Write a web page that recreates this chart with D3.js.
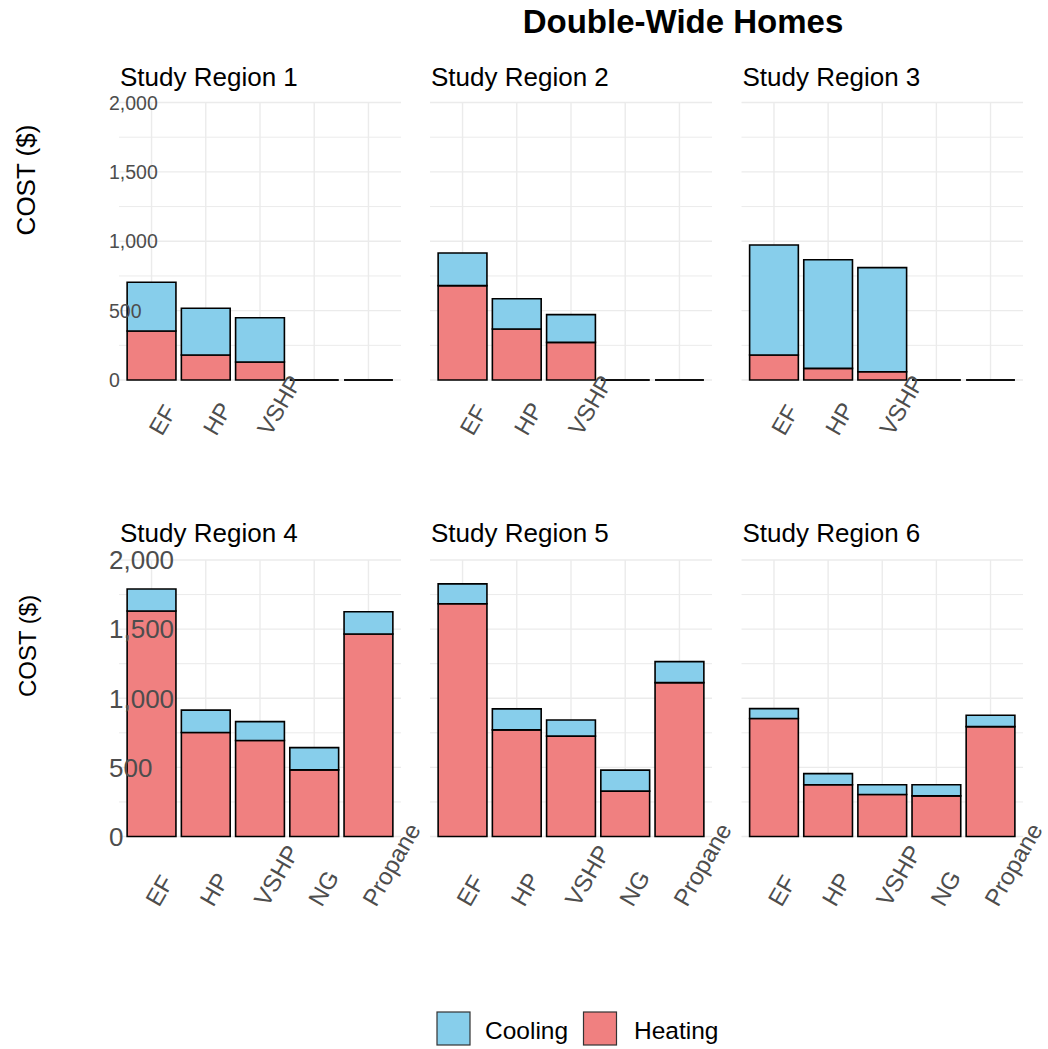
<!DOCTYPE html>
<html>
<head>
<meta charset="utf-8">
<script src="https://cdn.jsdelivr.net/npm/d3@7"></script>
<style>
  html, body { margin: 0; padding: 0; background: #ffffff; }
  svg { display: block; font-family: "Liberation Sans", Arial, sans-serif; }
</style>
</head>
<body>
<svg id="chart" width="1048" height="1049"></svg>
<script>
// ---------- data ----------
const chartTitle = "Double-Wide Homes";
const yAxisTitle = "COST ($)";
const categories = ["EF", "HP", "VSHP", "NG", "Propane"];
const regionNames = ["Study Region 1", "Study Region 2", "Study Region 3",
                     "Study Region 4", "Study Region 5", "Study Region 6"];
const seriesNames = ["Cooling", "Heating"];
const yTicks = [0, 500, 1000, 1500, 2000];
const yMinorTicks = [250, 750, 1250, 1750];
const topRowTickLabels = ["EF", "HP", "VSHP"];
const bottomRowTickLabels = ["EF", "HP", "VSHP", "NG", "Propane"];

const heating1 = [353, 180, 130, 0, 0];
const cooling1 = [351, 337, 319, 0, 0];
const heating2 = [680, 368, 271, 0, 0];
const cooling2 = [235, 218, 200, 0, 0];
const heating3 = [180, 84, 60, 0, 0];
const cooling3 = [793, 783, 750, 0, 0];
const heating4 = [1631, 752, 694, 482, 1465];
const cooling4 = [159, 162, 137, 161, 161];
const heating5 = [1684, 771, 726, 328, 1113];
const cooling5 = [143, 152, 117, 152, 152];
const heating6 = [853, 374, 304, 294, 795];
const cooling6 = [72, 81, 70, 80, 82];

const heatingAll = [heating1, heating2, heating3, heating4, heating5, heating6];
const coolingAll = [cooling1, cooling2, cooling3, cooling4, cooling5, cooling6];

// ---------- layout ----------
const colors = { Cooling: "#87CEEB", Heating: "#F08080" };
const panelX = [[119, 401], [430, 712], [741.5, 1023]];
const rows = [
  { top: 102.5, bottom: 380, stripY: 86, tickFont: 19.5, xLabDy: 57, xLabDx: 10.5, xFont: 23.5,
    labels: topRowTickLabels, titleY: 180, titleX: 35, titleFont: 26 },
  { top: 560, bottom: 836.5, stripY: 542, tickFont: 26, xLabDy: 71.5, xLabDx: 7.5, xFont: 24,
    labels: bottomRowTickLabels, titleY: 646, titleX: 36, titleFont: 24 }
];

const svg = d3.select("#chart");
const fmt = d3.format(",");

svg.append("text")
  .attr("x", 683).attr("y", 33)
  .attr("text-anchor", "middle")
  .attr("font-weight", "bold")
  .attr("font-size", 33)
  .attr("fill", "#000")
  .text(chartTitle);

regionNames.forEach((name, idx) => {
  const r = Math.floor(idx / 3), c = idx % 3;
  const row = rows[r];
  const [x0, x1] = panelX[c];
  const x = d3.scaleBand().domain(categories).range([x0, x1])
    .paddingInner(0.1).paddingOuter(0.15);
  const y = d3.scaleLinear().domain([0, 2000]).range([row.bottom, row.top]);
  const g = svg.append("g");

  // minor grid
  g.selectAll("line.minor").data(yMinorTicks).join("line")
    .attr("x1", x0).attr("x2", x1)
    .attr("y1", d => y(d)).attr("y2", d => y(d))
    .attr("stroke", "#ebebeb").attr("stroke-width", 1);
  // major grid
  g.selectAll("line.major").data(yTicks).join("line")
    .attr("x1", x0).attr("x2", x1)
    .attr("y1", d => y(d)).attr("y2", d => y(d))
    .attr("stroke", "#ebebeb").attr("stroke-width", 1.4);
  g.selectAll("line.vgrid").data(categories).join("line")
    .attr("x1", d => x(d) + x.bandwidth() / 2).attr("x2", d => x(d) + x.bandwidth() / 2)
    .attr("y1", row.top).attr("y2", row.bottom)
    .attr("stroke", "#ebebeb").attr("stroke-width", 1.4);

  // bars (stacked)
  const heat = heatingAll[idx], cool = coolingAll[idx];
  const segs = [];
  categories.forEach((cat, i) => {
    segs.push({ cat, s: "Heating", y0: 0, y1: heat[i] });
    segs.push({ cat, s: "Cooling", y0: heat[i], y1: heat[i] + cool[i] });
  });
  g.selectAll("path.bar").data(segs).join("path")
    .attr("d", d => {
      const bx = x(d.cat), bw = x.bandwidth();
      const ya = y(d.y0), yb = y(d.y1);
      return `M${bx},${ya}H${bx + bw}V${yb}H${bx}Z`;
    })
    .attr("fill", d => colors[d.s])
    .attr("stroke", "#000")
    .attr("stroke-width", 1.6);

  // strip title
  svg.append("text")
    .attr("x", x0 + 1).attr("y", row.stripY)
    .attr("font-size", 26).attr("fill", "#000")
    .text(name);

  // y tick labels (only left column)
  if (c === 0) {
    svg.selectAll(null).data(yTicks).join("text")
      .attr("x", 109).attr("y", d => y(d))
      .attr("dy", "0.36em")
      .attr("font-size", row.tickFont)
      .attr("fill", "#4d4d4d")
      .text(d => fmt(d));
    svg.append("text")
      .attr("transform", `translate(${row.titleX},${row.titleY}) rotate(-90)`)
      .attr("text-anchor", "middle")
      .attr("font-size", row.titleFont)
      .attr("fill", "#000")
      .text(yAxisTitle);
  }

  // x tick labels
  svg.selectAll(null).data(row.labels).join("text")
    .attr("transform", d => `translate(${x(d) + x.bandwidth() / 2 + row.xLabDx},${row.bottom + row.xLabDy}) rotate(-60)`)
    .attr("text-anchor", "start")
    .attr("font-size", row.xFont)
    .attr("fill", "#4d4d4d")
    .text(d => d);
});

// ---------- legend ----------
const legendPos = [{ bx: 437, tx: 485 }, { bx: 583.5, tx: 634 }];
const lg = svg.append("g");
seriesNames.forEach((s, i) => {
  lg.append("rect")
    .attr("x", legendPos[i].bx).attr("y", 1012)
    .attr("width", 33).attr("height", 33)
    .attr("fill", colors[s]).attr("stroke", "#333").attr("stroke-width", 1.2);
  lg.append("text")
    .attr("x", legendPos[i].tx).attr("y", 1039)
    .attr("font-size", 24.5).attr("fill", "#000")
    .text(s);
});
</script>
</body>
</html>
